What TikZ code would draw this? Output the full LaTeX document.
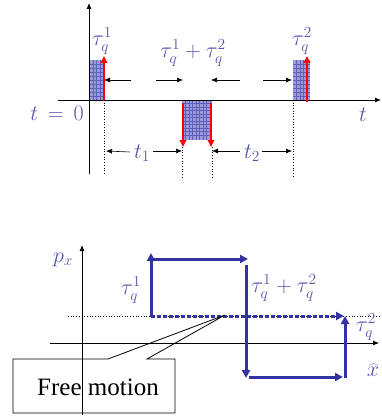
\documentclass[tikz,border=0pt]{standalone}
\usepackage{fix-cm}
\usepackage{fontspec}
\setmainfont{Liberation Serif}
\usetikzlibrary{arrows.meta}
\definecolor{labcol}{RGB}{85,85,170}
\definecolor{pathblue}{RGB}{50,50,160}
\definecolor{blockfill}{RGB}{155,155,220}
\definecolor{gridcol}{RGB}{95,95,185}
\tikzset{
  axis/.style={line width=0.8pt,-{Latex[length=6pt,width=5pt]}},
  dim/.style={line width=0.6pt,-{Latex[length=6pt,width=5pt]}},
  redarr/.style={red,line width=2.3pt,-{Triangle[length=7pt,width=6.5pt]}},
  bluearr/.style={pathblue,line width=3pt,-{Triangle[length=8pt,width=8pt]}},
  bluedash/.style={pathblue,line width=3pt,dash pattern=on 3.5pt off 2.5pt,-{Triangle[length=8pt,width=8pt]}},
  dotln/.style={line width=0.7pt,dotted},
  lab/.style={text=labcol,font=\fontsize{22}{24}\selectfont,inner sep=0pt},
  blockgrid/.style={gridcol,line width=0.3pt}
}
\begin{document}
\begin{tikzpicture}[x=1pt,y=-1pt]
\useasboundingbox (0,0) rectangle (381,417);
% ---------- top diagram ----------
% blocks
\fill[blockfill] (89,60) rectangle (104,100);
\foreach \x in {92.75,96.5,100.25} \draw[blockgrid] (\x,60) -- (\x,100);
\foreach \y in {64,68,...,96} \draw[blockgrid] (89,\y) -- (104,\y);
\fill[blockfill] (182,100) rectangle (212,140);
\foreach \x in {185.5,189,...,210} \draw[blockgrid] (\x,100) -- (\x,140);
\foreach \y in {103.5,107,...,138} \draw[blockgrid] (182,\y) -- (212,\y);
\fill[blockfill] (293,60) rectangle (310,100);
\foreach \x in {296.5,300,303.5,307} \draw[blockgrid] (\x,60) -- (\x,100);
\foreach \y in {64,68,...,96} \draw[blockgrid] (293,\y) -- (310,\y);
% axes
\coordinate (ty0) at (89,174); \coordinate (ty1) at (89,3);
\coordinate (tx0) at (58,100); \coordinate (tx1) at (381,100);
\draw[axis] (ty0) -- (ty1);
\draw[axis] (tx0) -- (tx1);
% red arrows
\coordinate (r1a) at (104,101); \coordinate (r1b) at (104,56);
\coordinate (r2a) at (183,103); \coordinate (r2b) at (183,147);
\coordinate (r3a) at (211,103); \coordinate (r3b) at (211,147);
\coordinate (r4a) at (307,102); \coordinate (r4b) at (307,56);
\draw[redarr] (r1a) -- (r1b);
\draw[redarr] (r2a) -- (r2b);
\draw[redarr] (r3a) -- (r3b);
\draw[redarr] (r4a) -- (r4b);
% labels
\node[lab] (lt1) at (102,41) {$\tau_q^1$};
\node[lab] (lt12) at (193,53) {$\tau_q^1+\tau_q^2$};
\node[lab] (lt2) at (302,41) {$\tau_q^2$};
\node[lab] (lt0) at (57,113) {$t\,=\,0$};
\node[lab] (lt) at (363,115) {$t$};
\node[lab] (lta) at (142,153) {$t_1$};
\node[lab] (ltb) at (252,153) {$t_2$};
% dimension arrows
\coordinate (a1) at (131,80); \coordinate (a1t) at (104,80);
\coordinate (a2) at (156,80); \coordinate (a2t) at (183,80);
\coordinate (a3) at (240,80); \coordinate (a3t) at (211,80);
\coordinate (a4) at (263,80); \coordinate (a4t) at (292,80);
\draw[dim] (a1) -- (a1t);
\draw[dim] (a2) -- (a2t);
\draw[dim] (a3) -- (a3t);
\draw[dim] (a4) -- (a4t);
\coordinate (b1) at (130,152); \coordinate (b1t) at (106,151);
\coordinate (b2) at (153,151); \coordinate (b2t) at (182,151);
\coordinate (b3) at (240,151); \coordinate (b3t) at (212,151);
\coordinate (b4) at (262,151); \coordinate (b4t) at (292,151);
\draw[dim] (b1) -- (b1t);
\draw[dim] (b2) -- (b2t);
\draw[dim] (b3) -- (b3t);
\draw[dim] (b4) -- (b4t);
% dotted verticals
\draw[dotln] (104,100) -- (104,174);
\draw[dotln] (182,147) -- (182,178);
\draw[dotln] (212,147) -- (212,178);
\draw[dotln] (293,100) -- (293,178);
% ---------- bottom diagram ----------
\coordinate (by0) at (82,415); \coordinate (by1) at (82,245);
\coordinate (bx0) at (50,343); \coordinate (bx1) at (379,343);
\draw[axis] (by0) -- (by1);
\draw[axis] (bx0) -- (bx1);
\draw[dotln] (68,316) -- (381,316);
\coordinate (p0) at (151,317); \coordinate (p1) at (151,253);
\coordinate (p2) at (154,259); \coordinate (p3) at (248,259);
\coordinate (p4) at (246,265); \coordinate (p5) at (246,378);
\coordinate (p6) at (249,377); \coordinate (p7) at (343,377);
\coordinate (p8) at (345,378); \coordinate (p9) at (345,316);
\coordinate (q0) at (151,316); \coordinate (q1) at (344,316);
\draw[bluedash] (q0) -- (q1);
\draw[bluearr] (p0) -- (p1);
\draw[bluearr] (p2) -- (p3);
\draw[bluearr] (p4) -- (p5);
\draw[bluearr] (p6) -- (p7);
\draw[bluearr] (p8) -- (p9);
\node[lab] (px) at (63,260) {$p_x$};
\node[lab] (bt1) at (131,290) {$\tau_q^1$};
\node[lab] (bt12) at (284,288) {$\tau_q^1+\tau_q^2$};
\node[lab] (bt2) at (366,327) {$\tau_q^2$};
\node[lab] (bxh) at (373,370) {$\widehat{x}$};
% callout
\coordinate (tip) at (225,315);
\draw[line width=0.8pt] (13,359) -- (108,359) -- (tip) -- (147,359) -- (175,359) -- (175,413) -- (13,413) -- cycle;
\node[font=\fontsize{25}{27}\selectfont,inner sep=0pt] (free) at (98,387) {Free motion};
\end{tikzpicture}
\end{document}
